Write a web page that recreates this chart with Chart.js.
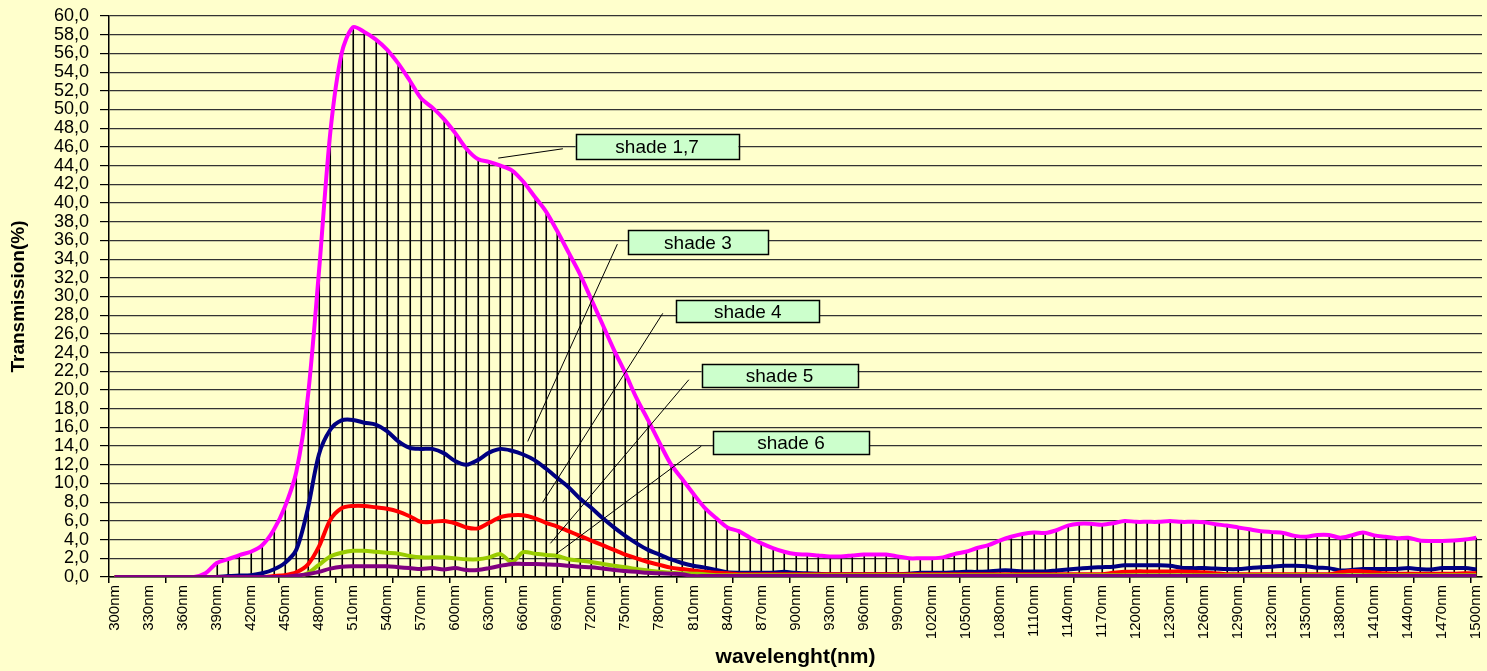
<!DOCTYPE html>
<html>
<head>
<meta charset="utf-8">
<script src="https://cdn.jsdelivr.net/npm/chart.js@4.4.1/dist/chart.umd.min.js"></script>
<style>
  html, body { margin: 0; padding: 0; background: #FFFFCC; }
  canvas { display: block; }
</style>
</head>
<body>
<canvas id="myChart" width="1487" height="671"></canvas>
<script>
// wavelengths (nm), one category each
const wavelengths = [
  300, 310, 320, 330, 340, 350, 360, 370, 380, 390,
  400, 410, 420, 430, 440, 450, 460, 470, 480, 490,
  500, 510, 520, 530, 540, 550, 560, 570, 580, 590,
  600, 610, 620, 630, 640, 650, 660, 670, 680, 690,
  700, 710, 720, 730, 740, 750, 760, 770, 780, 790,
  800, 810, 820, 830, 840, 850, 860, 870, 880, 890,
  900, 910, 920, 930, 940, 950, 960, 970, 980, 990,
  1000, 1010, 1020, 1030, 1040, 1050, 1060, 1070, 1080, 1090,
  1100, 1110, 1120, 1130, 1140, 1150, 1160, 1170, 1180, 1190,
  1200, 1210, 1220, 1230, 1240, 1250, 1260, 1270, 1280, 1290,
  1300, 1310, 1320, 1330, 1340, 1350, 1360, 1370, 1380, 1390,
  1400, 1410, 1420, 1430, 1440, 1450, 1460, 1470, 1480, 1490,
  1500
];

// transmission (%) per shade
const shade17 = [
  0, 0, 0, 0, 0, 0, 0, 0, 0.4, 1.5,
  1.9, 2.35, 2.7, 3.4, 5.0, 7.5, 11.2, 19.0, 32.6, 47.5,
  56.0, 58.8, 58.3, 57.5, 56.4, 54.9, 53.1, 51.2, 50.2, 49.0,
  47.5, 45.8, 44.7, 44.4, 44.0, 43.5, 42.3, 40.7, 39.1, 37.0,
  34.7, 32.4, 29.7, 27.0, 24.3, 21.8, 19.1, 16.8, 14.4, 12.1,
  10.5, 8.9, 7.4, 6.3, 5.3, 4.9, 4.2, 3.6, 3.1, 2.7,
  2.45, 2.4, 2.3, 2.2, 2.2, 2.3, 2.4, 2.4, 2.4, 2.2,
  2.0, 2.0, 2.0, 2.1, 2.45, 2.7, 3.1, 3.4, 3.9, 4.3,
  4.6, 4.75, 4.7, 5.0, 5.5, 5.7, 5.7, 5.6, 5.75, 6.0,
  5.9, 5.9, 5.9, 6.0, 5.9, 5.9, 5.85, 5.65, 5.5, 5.3,
  5.1, 4.9, 4.8, 4.7, 4.4, 4.3, 4.5, 4.5, 4.2, 4.45,
  4.75, 4.45, 4.3, 4.15, 4.2, 3.9, 3.85, 3.85, 3.9, 4.0,
  4.2
];

const shade3 = [
  0, 0, 0, 0, 0, 0, 0, 0, 0, 0,
  0.1, 0.15, 0.2, 0.4, 0.8, 1.5, 2.9, 7.2, 13.1, 15.75,
  16.75, 16.8, 16.5, 16.3, 15.6, 14.5, 13.8, 13.7, 13.7, 13.25,
  12.4, 12.0, 12.5, 13.3, 13.7, 13.5, 13.1, 12.5, 11.6, 10.6,
  9.6, 8.4, 7.4, 6.3, 5.3, 4.4, 3.6, 2.9, 2.4, 1.9,
  1.5, 1.2, 1.0, 0.75, 0.5, 0.45, 0.45, 0.45, 0.45, 0.55,
  0.45, 0.4, 0.35, 0.3, 0.3, 0.3, 0.3, 0.3, 0.3, 0.3,
  0.35, 0.45, 0.45, 0.45, 0.5, 0.55, 0.55, 0.6, 0.7, 0.7,
  0.6, 0.6, 0.6, 0.7, 0.8, 0.9, 1.0, 1.05, 1.1, 1.25,
  1.25, 1.25, 1.25, 1.2, 1.0, 0.95, 0.95, 0.9, 0.85, 0.85,
  0.95, 1.05, 1.1, 1.2, 1.2, 1.15, 1.0, 0.95, 0.7, 0.75,
  0.85, 0.85, 0.85, 0.85, 0.95, 0.85, 0.8, 0.95, 0.95, 0.95,
  0.8
];

const shade4 = [
  0, 0, 0, 0, 0, 0, 0, 0, 0, 0,
  0, 0, 0, 0, 0.1, 0.2, 0.5, 1.3, 3.25, 6.1,
  7.35, 7.6, 7.6, 7.45, 7.3, 7.0, 6.5, 5.9, 5.9, 6.0,
  5.75, 5.3, 5.2, 5.8, 6.4, 6.6, 6.6, 6.3, 5.8, 5.4,
  4.9, 4.4, 3.9, 3.4, 2.9, 2.4, 2.0, 1.6, 1.3, 1.0,
  0.85, 0.7, 0.55, 0.45, 0.4, 0.3, 0.3, 0.3, 0.3, 0.3,
  0.3, 0.3, 0.3, 0.3, 0.3, 0.3, 0.3, 0.3, 0.3, 0.3,
  0.3, 0.3, 0.3, 0.3, 0.3, 0.3, 0.3, 0.3, 0.3, 0.3,
  0.3, 0.3, 0.3, 0.3, 0.3, 0.3, 0.3, 0.3, 0.45, 0.55,
  0.6, 0.6, 0.6, 0.6, 0.6, 0.55, 0.5, 0.4, 0.3, 0.3,
  0.3, 0.3, 0.3, 0.3, 0.3, 0.3, 0.3, 0.3, 0.5, 0.65,
  0.6, 0.5, 0.4, 0.35, 0.35, 0.35, 0.35, 0.35, 0.35, 0.4,
  0.4
];

const shade5 = [
  0, 0, 0, 0, 0, 0, 0, 0, 0, 0,
  0, 0, 0, 0, 0, 0, 0, 0.4, 1.3, 2.2,
  2.6, 2.8, 2.8, 2.7, 2.6, 2.5, 2.25, 2.1, 2.1, 2.1,
  2.0, 1.9, 1.9, 2.1, 2.45, 1.6, 2.65, 2.5, 2.35, 2.25,
  1.9, 1.75, 1.6, 1.4, 1.2, 1.05, 0.85, 0.7, 0.55, 0.45,
  0.4, 0.35, 0.3, 0.2, 0.2, 0.2, 0.2, 0.2, 0.2, 0.2,
  0.2, 0.2, 0.2, 0.2, 0.2, 0.2, 0.2, 0.2, 0.2, 0.2,
  0.2, 0.2, 0.2, 0.2, 0.2, 0.2, 0.2, 0.2, 0.2, 0.2,
  0.2, 0.2, 0.2, 0.2, 0.2, 0.2, 0.2, 0.2, 0.2, 0.2,
  0.2, 0.2, 0.2, 0.2, 0.2, 0.2, 0.2, 0.2, 0.2, 0.2,
  0.2, 0.2, 0.2, 0.2, 0.2, 0.2, 0.2, 0.2, 0.2, 0.2,
  0.2, 0.2, 0.2, 0.2, 0.2, 0.2, 0.2, 0.2, 0.2, 0.2,
  0.2
];

const shade6 = [
  0, 0, 0, 0, 0, 0, 0, 0, 0, 0,
  0, 0, 0, 0, 0, 0, 0.15, 0.3, 0.55, 0.9,
  1.1, 1.15, 1.15, 1.15, 1.15, 1.05, 0.95, 0.85, 0.95, 0.8,
  0.95, 0.75, 0.75, 0.95, 1.2, 1.4, 1.4, 1.4, 1.35, 1.3,
  1.2, 1.1, 1.05, 0.9, 0.75, 0.65, 0.55, 0.45, 0.4, 0.35,
  0.3, 0.1, 0.1, 0.1, 0.1, 0.1, 0.1, 0.1, 0.1, 0.1,
  0.1, 0.1, 0.1, 0.1, 0.1, 0.1, 0.1, 0.1, 0.1, 0.1,
  0.1, 0.1, 0.1, 0.1, 0.1, 0.1, 0.1, 0.1, 0.1, 0.1,
  0.1, 0.1, 0.1, 0.1, 0.1, 0.1, 0.1, 0.1, 0.1, 0.1,
  0.1, 0.1, 0.1, 0.1, 0.1, 0.1, 0.1, 0.1, 0.1, 0.1,
  0.1, 0.1, 0.1, 0.1, 0.1, 0.1, 0.1, 0.1, 0.1, 0.1,
  0.1, 0.1, 0.1, 0.1, 0.1, 0.1, 0.1, 0.1, 0.1, 0.1,
  0.1
];

const categories = wavelengths.map(nm => nm + 'nm');

// callout boxes, anchored in data units (nm, %)
const callouts = [
  { text: 'shade 1,7', box: [778, 46.0], size: [163, 25], from: [695, 45.8], to: [638, 44.8] },
  { text: 'shade 3',   box: [814, 35.8], size: [140, 24], from: [743, 35.6], to: [664, 14.5] },
  { text: 'shade 4',   box: [858, 28.4], size: [143, 22], from: [783, 28.2], to: [677, 7.95] },
  { text: 'shade 5',   box: [886, 21.5], size: [156, 23], from: [806, 21.1], to: [684, 3.6] },
  { text: 'shade 6',   box: [896, 14.4], size: [156, 23], from: [817, 14.0], to: [689, 2.46] }
];

const nmToX = (scale, nm) => scale.getPixelForValue((nm - wavelengths[0]) / 10);

// vertical drop lines from the highest series down to the axis
const dropLines = {
  id: 'dropLines',
  beforeDatasetsDraw(chart) {
    const { ctx, scales: { x, y }, chartArea } = chart;
    ctx.save();
    ctx.beginPath();
    ctx.rect(chartArea.left, chartArea.top, chartArea.width, chartArea.height);
    ctx.clip();
    ctx.strokeStyle = '#000';
    ctx.lineWidth = 1.6;
    wavelengths.forEach((nm, i) => {
      const top = Math.max(...chart.data.datasets.map(d => d.data[i]));
      if (top <= 0) return;
      const px = Math.round(x.getPixelForValue(i)) + 0.25;
      ctx.beginPath();
      ctx.moveTo(px, y.getPixelForValue(top));
      ctx.lineTo(px, y.getPixelForValue(0));
      ctx.stroke();
    });
    ctx.restore();
  }
};

const calloutPlugin = {
  id: 'callouts',
  afterDatasetsDraw(chart) {
    const { ctx, scales: { x, y } } = chart;
    ctx.save();
    callouts.forEach(c => {
      ctx.strokeStyle = '#000';
      ctx.lineWidth = 1;
      ctx.beginPath();
      ctx.moveTo(nmToX(x, c.from[0]), y.getPixelForValue(c.from[1]));
      ctx.lineTo(nmToX(x, c.to[0]), y.getPixelForValue(c.to[1]));
      ctx.stroke();

      const cx = nmToX(x, c.box[0]);
      const cy = y.getPixelForValue(c.box[1]);
      const [w, h] = c.size;
      ctx.fillStyle = '#CCFFCC';
      ctx.fillRect(cx - w / 2, cy - h / 2, w, h);
      ctx.lineWidth = 1.5;
      ctx.strokeRect(Math.round(cx - w / 2) + 0.5, Math.round(cy - h / 2) + 0.5, w, h);
      ctx.fillStyle = '#000';
      ctx.font = '19px "Liberation Sans", Arial, sans-serif';
      ctx.textAlign = 'center';
      ctx.textBaseline = 'middle';
      ctx.fillText(c.text, cx, cy + 1);
    });
    ctx.restore();
  }
};

Chart.defaults.font.family = '"Liberation Sans", Arial, sans-serif';
Chart.defaults.color = '#000';

const lineStyle = (label, data, color, order) => ({
  label: label,
  data: data,
  borderColor: color,
  backgroundColor: color,
  borderWidth: 4,
  pointRadius: 0,
  tension: 0.3,
  fill: false,
  order: order
});

const ctx = document.getElementById('myChart');

new Chart(ctx, {
  type: 'line',
  data: {
    labels: categories,
    datasets: [
      lineStyle('shade 1,7', shade17, '#FF00FF', 5),
      lineStyle('shade 3', shade3, '#000080', 4),
      lineStyle('shade 4', shade4, '#FF0000', 3),
      lineStyle('shade 5', shade5, '#99CC00', 2),
      lineStyle('shade 6', shade6, '#800080', 1)
    ]
  },
  options: {
    responsive: false,
    animation: false,
    devicePixelRatio: 1,
    layout: { padding: { left: 0, right: 5, top: 16, bottom: 0 } },
    plugins: {
      legend: { display: false },
      tooltip: { enabled: false }
    },
    scales: {
      x: {
        offset: true,
        grid: {
          offset: true,
          drawOnChartArea: false,
          drawTicks: true,
          tickLength: 6,
          color: c => (c.index % 5 === 0 ? '#000' : 'rgba(0,0,0,0)'),
          lineWidth: 1.5
        },
        border: { display: true, color: '#000', width: 1.5 },
        ticks: {
          autoSkip: false,
          minRotation: 90,
          maxRotation: 90,
          padding: 2,
          font: { size: 15 },
          callback: function (value, index) {
            return index % 3 === 0 ? this.getLabelForValue(value) : '';
          }
        },
        title: {
          display: true,
          text: 'wavelenght(nm)',
          font: { size: 21, weight: 'bold', lineHeight: 1 },
          padding: { top: 0, bottom: 3.5 }
        },
        afterFit: s => { s.height = 94; s.paddingLeft = 0; s.paddingRight = 0; }
      },
      y: {
        min: 0,
        max: 60,
        grid: {
          color: '#333',
          lineWidth: 1.2,
          drawTicks: true,
          tickLength: 9,
          tickColor: '#000'
        },
        border: { display: true, color: '#000', width: 1.5 },
        ticks: {
          stepSize: 2,
          autoSkip: false,
          padding: 11,
          font: { size: 18, lineHeight: 1 },
          callback: v => v.toFixed(1).replace('.', ',')
        },
        title: {
          display: true,
          text: 'Transmission(%)',
          font: { size: 19, weight: 'bold', lineHeight: 1 },
          padding: { top: 9, bottom: 0 }
        },
        afterFit: s => { s.width = 109; s.paddingTop = 0; s.paddingBottom = 0; }
      }
    }
  },
  plugins: [dropLines, calloutPlugin]
});
</script>
</body>
</html>
